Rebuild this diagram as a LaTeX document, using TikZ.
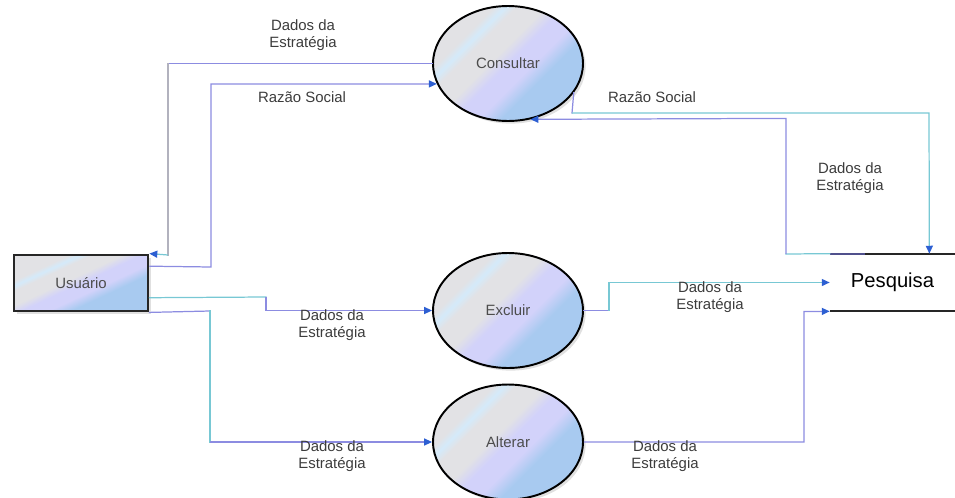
\documentclass[tikz,border=0pt]{standalone}
\usepackage{fontspec}
\setmainfont{Liberation Sans}
\usetikzlibrary{shapes.geometric,arrows.meta,calc,shadows}

\definecolor{flowteal}{RGB}{120,200,212}
\definecolor{flowlilac}{RGB}{140,140,225}
\definecolor{flowgray}{RGB}{178,178,190}
\definecolor{tipblue}{RGB}{45,95,210}
\definecolor{labelgray}{RGB}{60,60,60}
\definecolor{fillgray}{RGB}{226,226,229}
\definecolor{filllav}{RGB}{210,210,250}
\definecolor{fillblue}{RGB}{168,202,240}
\definecolor{fillhi}{RGB}{212,234,250}
\definecolor{navyline}{RGB}{80,80,140}

% diagonal fill of the process bubbles: grey top-left, lavender band, blue bottom-right
\pgfdeclareverticalshading{procfill}{100bp}{%
  color(0bp)=(fillblue); color(37bp)=(fillblue); color(43bp)=(filllav);
  color(50bp)=(filllav); color(55bp)=(fillgray); color(63bp)=(fillgray);
  color(66bp)=(fillhi); color(69bp)=(fillgray); color(100bp)=(fillgray)}

\tikzset{
  proc/.style={ellipse, draw=black, line width=1.1pt, minimum width=3cm,
    minimum height=2.3cm, inner sep=0pt, shading=procfill, shading angle=45,
    font=\fontsize{8.5}{10}\selectfont, text=black!70,
    drop shadow={shadow xshift=1.5pt, shadow yshift=-1.5pt, fill=black, opacity=0.12}},
  entity/.style={rectangle, draw=black!85, line width=1.6pt, minimum width=2.68cm,
    minimum height=1.12cm, inner sep=0pt, shading=procfill, shading angle=25,
    font=\fontsize{8.5}{10}\selectfont, text=black!70,
    drop shadow={shadow xshift=1.5pt, shadow yshift=-1.5pt, fill=black, opacity=0.12}},
  store/.style={minimum width=2.5cm, minimum height=1.14cm, inner sep=0pt,
    font=\fontsize{11.5}{13}\selectfont, text=black},
  lbl/.style={font=\fontsize{8.5}{9.6}\selectfont, text=labelgray, align=center, inner sep=0pt},
  flow/.style={line width=0.7pt, line cap=rect},
  arr/.style={-{Triangle[length=4.5pt, width=4pt, color=tipblue]}, line cap=butt},
  storeline/.style={line width=1.2pt, draw=black!85}
}

\begin{document}
\begin{tikzpicture}[x=0.02cm, y=-0.02cm]
\useasboundingbox (0,0) rectangle (955,497);

% processes, external entity and data store
\node[entity] (Usuario) at (81,283) {Usuário};
\node[proc] (Consultar) at (508,63.5) {Consultar};
\node[proc] (Excluir) at (508,310.5) {Excluir};
\node[proc] (Alterar) at (508,442) {Alterar};
\node[store] (Pesquisa) at (892.5,282.5) {Pesquisa};
\draw[storeline] (Pesquisa.north west) -- (Pesquisa.north east);
\draw[storeline] (Pesquisa.south west) -- (Pesquisa.south east);
\draw[line width=1.2pt, navyline] (Pesquisa.north west) -- ++(35,0);

% points where flows leave the entity
\coordinate (u2) at ($(Usuario.north east)!0.214!(Usuario.south east)$);
\coordinate (u3) at ($(Usuario.north east)!0.75!(Usuario.south east)$);

% Consultar -> Usuario
\draw[flow, flowlilac] (Consultar.west) -- (168,63.5);
\draw[flow, flowgray] (168,63.5) -- (168,255);
\draw[flow, flowteal, arr] (168,255) -- (Usuario.north east);
\node[lbl] (l1) at (303,35) {Dados da\\Estratégia};

% Usuario -> Consultar
\draw[flow, flowlilac, arr] (u2) -- (211,267) -- (211,84) -- (Consultar.196.3);
\node[lbl] (l2) at (302,97) {Razão Social};

% Usuario -> Excluir
\draw[flow, flowteal] (u3) -- (266,297);
\draw[flow, flowlilac, arr] (266,297) -- (266,310.5) -- (Excluir.west);
\node[lbl] (l3) at (332,325) {Dados da\\Estratégia};

% Usuario -> Alterar
\draw[flow, flowlilac] (Usuario.south east) -- (210,311);
\draw[flow, flowteal] (210,311) -- (210,442);
\draw[flow, flowlilac, arr] (210,442) -- (Alterar.west);
\node[lbl] (l4) at (332,456) {Dados da\\Estratégia};

% Consultar -> Pesquisa
\draw[flow, flowlilac] (Consultar.-24) -- (572,113);
\draw[flow, flowteal, arr] (572,113) -- (929,113) -- ($(Pesquisa.north east)+(-26,0)$);
\node[lbl] (l5) at (652,97) {Razão Social};

% Pesquisa -> Consultar
\draw[flow, flowteal] (Pesquisa.north west) -- (786,254);
\draw[flow, flowlilac, arr] (786,254) -- (786,118.4) -- (Consultar.-68);
\node[lbl] (l6) at (850,178) {Dados da\\Estratégia};

% Excluir -> Pesquisa
\draw[flow, flowlilac] (Excluir.east) -- (609,310.5);
\draw[flow, flowteal, arr] (609,310.5) -- (609,282.5) -- (Pesquisa.west);
\node[lbl] (l7) at (710,297) {Dados da\\Estratégia};

% Alterar -> Pesquisa
\draw[flow, flowlilac, arr] (Alterar.east) -- (804,442) -- (804,311.5) -- (Pesquisa.south west);
\node[lbl] (l8) at (665,456) {Dados da\\Estratégia};
\end{tikzpicture}
\end{document}
